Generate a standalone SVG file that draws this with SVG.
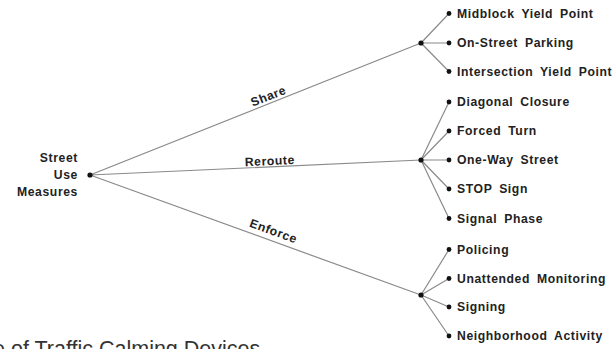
<svg xmlns="http://www.w3.org/2000/svg" width="616" height="349" viewBox="0 0 616 349">
<style>
.edge{stroke:#8a8a8a;stroke-width:1.2;fill:none}
.dot{fill:#111}
.lbl{font-family:"Liberation Sans",Arial,sans-serif;font-weight:bold;font-size:12.2px;fill:#222;letter-spacing:0.6px;word-spacing:3px}
.cap{font-family:"Liberation Sans",Arial,sans-serif;font-size:21.5px;fill:#333}
</style>
<rect width="616" height="349" fill="#fff"/>
<g id="connectors">
<path class="edge" d="M90,175 L421,43 M90,175 L421,160 M90,175 L421,295"/>
<path class="edge" d="M421,43 L449,13.5 M421,43 L449,43 M421,43 L449,71.5"/>
<path class="edge" d="M421,160 L449,102 M421,160 L449,131 M421,160 L449,160 M421,160 L449,189 M421,160 L449,218.5"/>
<path class="edge" d="M421,295 L449,249.5 M421,295 L449,278.5 M421,295 L449,307 M421,295 L449,336"/>
<g class="lbl">
<text transform="translate(270,100) rotate(-21.7)" text-anchor="middle">Share</text>
<text transform="translate(270,165) rotate(-2.6)" text-anchor="middle">Reroute</text>
<text transform="translate(272,235) rotate(19.9)" text-anchor="middle">Enforce</text>
</g>
</g>
<g id="root">
<circle class="dot" cx="90" cy="175" r="2.6"/>
<text class="lbl" text-anchor="end" x="78" y="162">Street</text>
<text class="lbl" text-anchor="end" x="78" y="179">Use</text>
<text class="lbl" text-anchor="end" x="78" y="196">Measures</text>
</g>
<g id="share"><circle class="dot" cx="421" cy="43" r="2.6"/></g>
<g id="reroute"><circle class="dot" cx="421" cy="160" r="2.6"/></g>
<g id="enforce"><circle class="dot" cx="421" cy="295" r="2.6"/></g>
<g id="midblock"><circle class="dot" cx="449" cy="13.5" r="2.4"/><text class="lbl" x="457" y="17.8">Midblock Yield Point</text></g>
<g id="onstreet"><circle class="dot" cx="449" cy="43" r="2.4"/><text class="lbl" x="457" y="47.3">On-Street Parking</text></g>
<g id="intersection"><circle class="dot" cx="449" cy="71.5" r="2.4"/><text class="lbl" x="457" y="75.8">Intersection Yield Point</text></g>
<g id="diagonal"><circle class="dot" cx="449" cy="102" r="2.4"/><text class="lbl" x="457" y="106.3">Diagonal Closure</text></g>
<g id="forced"><circle class="dot" cx="449" cy="131" r="2.4"/><text class="lbl" x="457" y="135.3">Forced Turn</text></g>
<g id="oneway"><circle class="dot" cx="449" cy="160" r="2.4"/><text class="lbl" x="457" y="164.3">One-Way Street</text></g>
<g id="stop"><circle class="dot" cx="449" cy="189" r="2.4"/><text class="lbl" x="457" y="193.3">STOP Sign</text></g>
<g id="signal"><circle class="dot" cx="449" cy="218.5" r="2.4"/><text class="lbl" x="457" y="222.8">Signal Phase</text></g>
<g id="policing"><circle class="dot" cx="449" cy="249.5" r="2.4"/><text class="lbl" x="457" y="253.8">Policing</text></g>
<g id="unattended"><circle class="dot" cx="449" cy="278.5" r="2.4"/><text class="lbl" x="457" y="282.8">Unattended Monitoring</text></g>
<g id="signing"><circle class="dot" cx="449" cy="307" r="2.4"/><text class="lbl" x="457" y="311.3">Signing</text></g>
<g id="neighborhood"><circle class="dot" cx="449" cy="336" r="2.4"/><text class="lbl" x="457" y="340.3">Neighborhood Activity</text></g>
<text class="cap" x="-7" y="356">e of Traffic Calming Devices</text>
</svg>
